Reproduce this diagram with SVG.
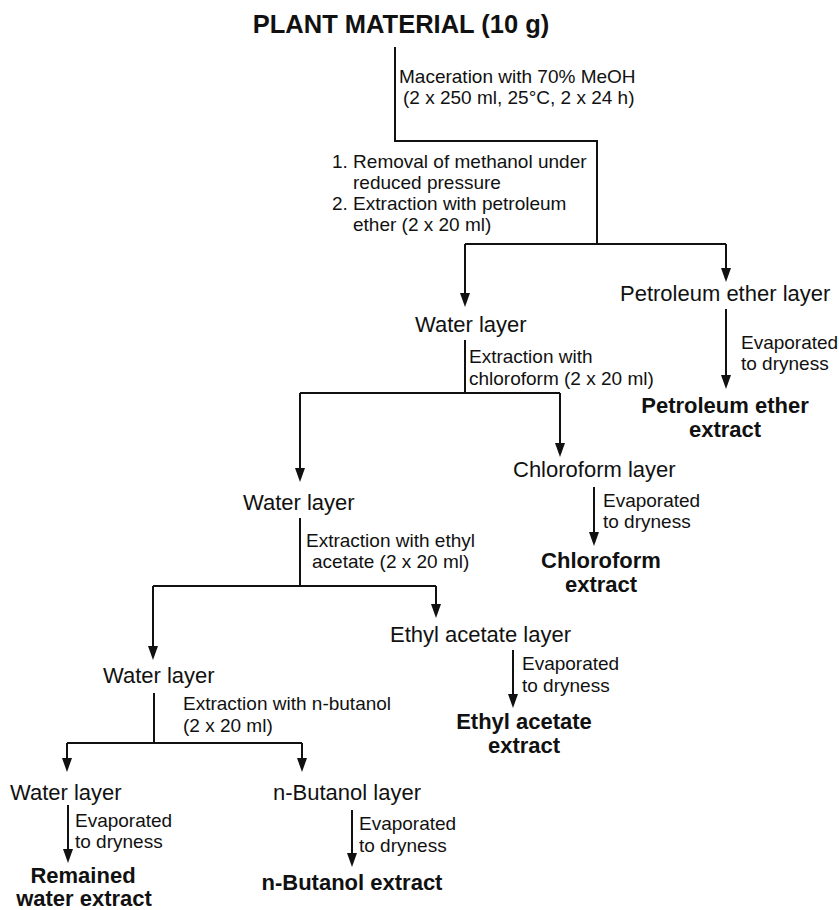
<svg xmlns="http://www.w3.org/2000/svg" width="839" height="910" viewBox="0 0 839 910">
<style>
text{font-family:"Liberation Sans",Arial,sans-serif;fill:#111}
.t{font-size:25.5px;font-weight:bold}
.n{font-size:22px}
.b{font-size:22px;font-weight:bold;text-anchor:middle}
.s{font-size:19px}
.c{fill:none;stroke:#111;stroke-width:2}
</style>
<defs>
<marker id="ah" viewBox="0 0 14 10" refX="10" refY="5" markerWidth="14" markerHeight="10" markerUnits="userSpaceOnUse" orient="auto">
<path d="M0,0 L14,5 L0,10 z" fill="#111"/>
</marker>
</defs>
<rect width="839" height="910" fill="#fff"/>
<g id="connectors">
<path class="c" d="M395,47 V141 H597 V244"/>
<path class="c" d="M465,244 H726"/>
<path class="c" d="M465,244 V303" marker-end="url(#ah)"/>
<path class="c" d="M726,244 V278" marker-end="url(#ah)"/>
<path class="c" d="M726,309 V385" marker-end="url(#ah)"/>
<path class="c" d="M465,340 V393 M300,393 H560"/>
<path class="c" d="M300,393 V478" marker-end="url(#ah)"/>
<path class="c" d="M560,393 V453" marker-end="url(#ah)"/>
<path class="c" d="M594,487 V542" marker-end="url(#ah)"/>
<path class="c" d="M300,518 V586 M153,586 H436"/>
<path class="c" d="M436,586 V614" marker-end="url(#ah)"/>
<path class="c" d="M153,586 V656" marker-end="url(#ah)"/>
<path class="c" d="M513,650 V704" marker-end="url(#ah)"/>
<path class="c" d="M154,693 V743 M67,743 H302"/>
<path class="c" d="M67,743 V768" marker-end="url(#ah)"/>
<path class="c" d="M302,743 V768" marker-end="url(#ah)"/>
<path class="c" d="M68,805 V859" marker-end="url(#ah)"/>
<path class="c" d="M352,810 V863" marker-end="url(#ah)"/>
</g>
<g id="edge-labels">
<text class="s" x="399" y="83">Maceration with 70% MeOH</text>
<text class="s" x="403" y="104">(2 x 250 ml, 25°C, 2 x 24 h)</text>
<text class="s" x="332" y="168">1. Removal of methanol under</text>
<text class="s" x="353" y="189">reduced pressure</text>
<text class="s" x="332" y="210">2. Extraction with petroleum</text>
<text class="s" x="353" y="231">ether (2 x 20 ml)</text>
<text class="s" x="741" y="349">Evaporated</text>
<text class="s" x="741" y="370">to dryness</text>
<text class="s" x="469" y="363">Extraction with</text>
<text class="s" x="469" y="385">chloroform (2 x 20 ml)</text>
<text class="s" x="603" y="507">Evaporated</text>
<text class="s" x="603" y="528">to dryness</text>
<text class="s" x="306" y="547">Extraction with ethyl</text>
<text class="s" x="312" y="568">acetate (2 x 20 ml)</text>
<text class="s" x="522" y="670">Evaporated</text>
<text class="s" x="522" y="692">to dryness</text>
<text class="s" x="183" y="710">Extraction with n-butanol</text>
<text class="s" x="183" y="732">(2 x 20 ml)</text>
<text class="s" x="75" y="827">Evaporated</text>
<text class="s" x="75" y="848">to dryness</text>
<text class="s" x="359" y="830">Evaporated</text>
<text class="s" x="359" y="852">to dryness</text>
</g>
<g id="plant-material"><text class="t" x="401" y="33" text-anchor="middle">PLANT MATERIAL (10 g)</text></g>
<g id="petroleum-ether-layer"><text class="n" x="620" y="301">Petroleum ether layer</text></g>
<g id="water-layer-1"><text class="n" x="415" y="332">Water layer</text></g>
<g id="petroleum-ether-extract"><text class="b" x="725" y="413">Petroleum ether</text><text class="b" x="725" y="437">extract</text></g>
<g id="chloroform-layer"><text class="n" x="513" y="477">Chloroform layer</text></g>
<g id="water-layer-2"><text class="n" x="243" y="510">Water layer</text></g>
<g id="chloroform-extract"><text class="b" x="601" y="568">Chloroform</text><text class="b" x="601" y="592">extract</text></g>
<g id="ethyl-acetate-layer"><text class="n" x="390" y="642">Ethyl acetate layer</text></g>
<g id="water-layer-3"><text class="n" x="103" y="683">Water layer</text></g>
<g id="ethyl-acetate-extract"><text class="b" x="524" y="729">Ethyl acetate</text><text class="b" x="524" y="753">extract</text></g>
<g id="water-layer-4"><text class="n" x="10" y="800">Water layer</text></g>
<g id="n-butanol-layer"><text class="n" x="273" y="800">n-Butanol layer</text></g>
<g id="remained-water-extract"><text class="b" x="83" y="883">Remained</text><text class="b" x="84" y="906">water extract</text></g>
<g id="n-butanol-extract"><text class="b" x="352" y="890">n-Butanol extract</text></g>
</svg>
